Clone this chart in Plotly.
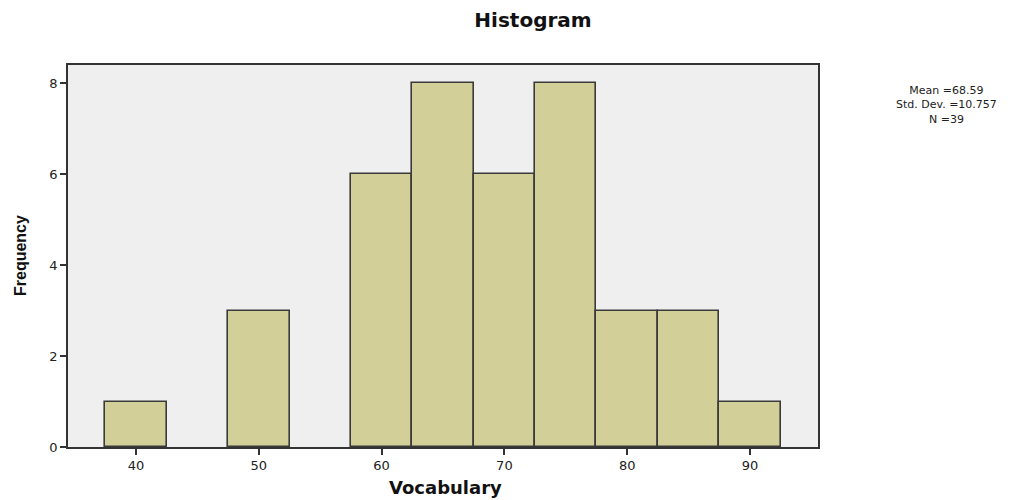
import plotly.graph_objects as go

bin_centers = [40, 50, 60, 65, 70, 75, 80, 85, 90]
frequencies = [1, 3, 6, 8, 6, 8, 3, 3, 1]
bin_width = 5
x_ticks = [40, 50, 60, 70, 80, 90]
y_ticks = [0, 2, 4, 6, 8]
stats_lines = ["Mean =68.59", "Std. Dev. =10.757", "N =39"]

fig = go.Figure()
fig.add_trace(go.Bar(
    x=bin_centers, y=frequencies, width=[bin_width] * len(bin_centers),
    marker=dict(color="#D3CF98", line=dict(color="#3a3a3a", width=1.6)),
    showlegend=False, hoverinfo="x+y",
))

wide = "DejaVu Sans, Verdana, sans-serif"
arial = "Liberation Sans, Arial, sans-serif"
axis_common = dict(ticks="outside", ticklen=6, tickwidth=1.5, tickcolor="#333",
                   showline=True, linecolor="#333", linewidth=1.5, mirror=True,
                   showgrid=False, zeroline=False, tickfont=dict(family=wide, size=13, color="#222"))

annotations = [
    dict(text="<b>Vocabulary</b>", xref="paper", yref="paper", x=0.5027, y=-0.107,
         xanchor="center", yanchor="middle", showarrow=False,
         font=dict(family=wide, size=18, color="#111")),
    dict(text="<b>Frequency</b>", xref="paper", yref="paper", x=-0.064, y=0.5,
         xanchor="center", yanchor="middle", showarrow=False, textangle=-90,
         font=dict(family=arial, size=16, color="#111")),
    dict(text="<br>".join(stats_lines), xref="paper", yref="paper", x=1.1707, y=0.896,
         xanchor="center", yanchor="middle", showarrow=False, align="center",
         font=dict(family=wide, size=11, color="#222")),
]

fig.update_layout(
    width=1024, height=492,
    margin=dict(l=60, r=214, t=57, b=53, autoexpand=False),
    paper_bgcolor="white", plot_bgcolor="#EFEFEF",
    font=dict(family=wide, size=13, color="#222"),
    title=dict(text="<b>Histogram</b>", x=525/1024, xanchor="center", y=1 - 12/492, yanchor="middle",
               font=dict(family=wide, size=20, color="#111")),
    bargap=0,
    xaxis=dict(range=[34.46, 95.54], tickvals=x_ticks, **axis_common),
    yaxis=dict(range=[0, 8.40], tickvals=y_ticks, **axis_common),
    annotations=annotations,
)
fig.write_html("out.html")
